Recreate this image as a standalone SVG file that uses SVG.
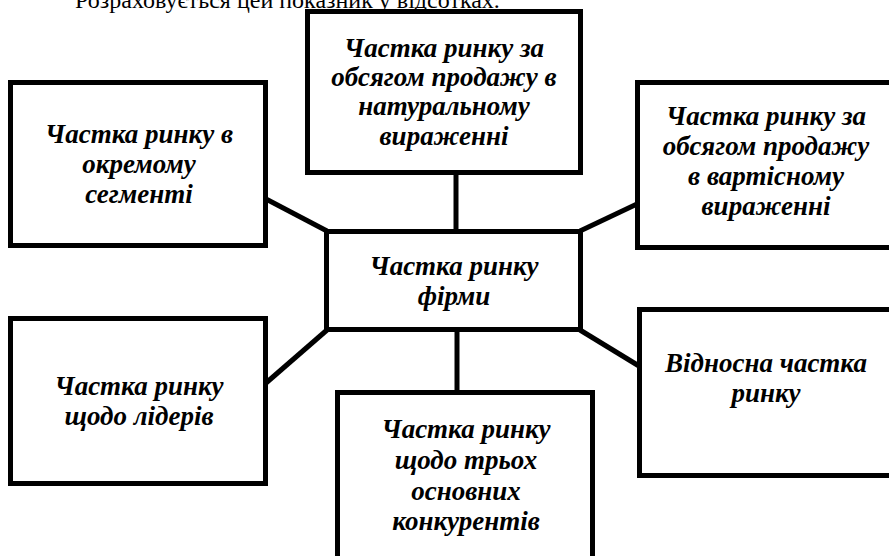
<svg xmlns="http://www.w3.org/2000/svg" width="889" height="556" viewBox="0 0 889 556">
<style>
.box{fill:#fff;stroke:#000;stroke-width:5}
.lbl{font-family:'Liberation Serif','Times New Roman',serif;font-weight:700;font-style:italic;font-size:27px;text-anchor:middle;fill:#000}
.con{stroke:#000;stroke-width:5;fill:none}
.top{font-family:'Liberation Serif','Times New Roman',serif;font-size:24px;fill:#000}
</style>
<rect width="889" height="556" fill="#fff"/>
<text class="top" x="75" y="8">Розраховується цей показник у відсотках.</text>
<g id="connectors">
<line class="con" x1="456" y1="174" x2="456" y2="230"/>
<line class="con" x1="457" y1="331" x2="457" y2="392"/>
<line class="con" x1="266" y1="199" x2="327" y2="231"/>
<line class="con" x1="637" y1="204" x2="580" y2="231"/>
<line class="con" x1="266" y1="383" x2="327" y2="330"/>
<line class="con" x1="639" y1="366" x2="580" y2="330"/>
</g>
<g id="node-segment">
<rect class="box" x="10.5" y="82.5" width="255" height="163"/>
<text class="lbl"><tspan x="139" y="143">Частка ринку в</tspan><tspan x="139" y="173">окремому</tspan><tspan x="139" y="203">сегменті</tspan></text>
</g>
<g id="node-natural">
<rect class="box" x="307.5" y="11.5" width="273" height="161"/>
<text class="lbl"><tspan x="444" y="57">Частка ринку за</tspan><tspan x="444" y="86">обсягом продажу в</tspan><tspan x="444" y="115">натуральному</tspan><tspan x="444" y="145">вираженні</tspan></text>
</g>
<g id="node-value">
<rect class="box" x="637.5" y="82.5" width="262" height="165"/>
<text class="lbl"><tspan x="766" y="125">Частка ринку за</tspan><tspan x="766" y="155">обсягом продажу</tspan><tspan x="766" y="185">в вартісному</tspan><tspan x="766" y="215">вираженні</tspan></text>
</g>
<g id="node-center">
<rect class="box" x="326.5" y="231.5" width="254" height="98"/>
<text class="lbl"><tspan x="454" y="275">Частка ринку</tspan><tspan x="454" y="305">фірми</tspan></text>
</g>
<g id="node-leaders">
<rect class="box" x="10.5" y="318.5" width="255" height="165"/>
<text class="lbl"><tspan x="139" y="395">Частка ринку</tspan><tspan x="139" y="425">щодо лідерів</tspan></text>
</g>
<g id="node-relative">
<rect class="box" x="639.5" y="309.5" width="262" height="166"/>
<text class="lbl"><tspan x="766" y="372">Відносна частка</tspan><tspan x="766" y="402">ринку</tspan></text>
</g>
<g id="node-competitors">
<rect class="box" x="337.5" y="392.5" width="255" height="185"/>
<text class="lbl"><tspan x="466" y="438">Частка ринку</tspan><tspan x="466" y="469">щодо трьох</tspan><tspan x="466" y="500">основних</tspan><tspan x="466" y="530">конкурентів</tspan></text>
</g>
</svg>
